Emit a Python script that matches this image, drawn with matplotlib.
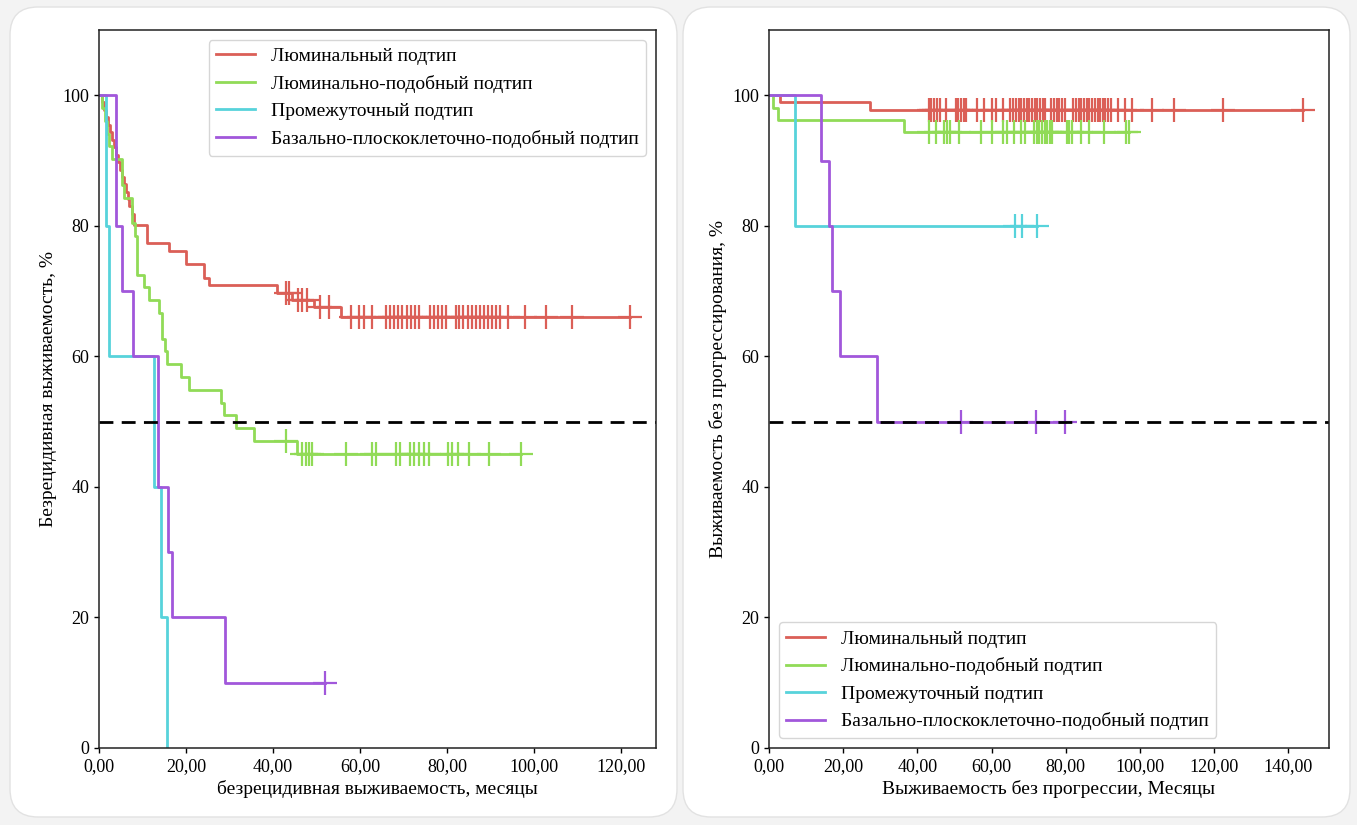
import numpy as np
import matplotlib
matplotlib.use("Agg")
import matplotlib.pyplot as plt
from matplotlib.patches import FancyBboxPatch
from matplotlib.ticker import FuncFormatter

plt.rcParams['font.family'] = ['Liberation Serif', 'DejaVu Serif']

## подписи групп и цвета (палитра hls из 4 цветов)
labels = ["Люминальный подтип", "Люминально-подобный подтип",
          "Промежуточный подтип", "Базально-плоскоклеточно-подобный подтип"]
colors = ["#db5f57", "#91db57", "#57d3db", "#a157db"]

## Левая панель: безрецидивная выживаемость
lum_rfs_t = [0, 0.8, 1.2, 1.7, 2.1, 2.5, 3.0, 3.4, 3.8, 4.3, 4.8, 5.2, 5.7, 6.1, 6.6, 7.0, 7.5, 8.0,
             11.1, 16.1, 19.9, 24.1, 25.3, 41.0, 44.4, 49.5, 55.5]
lum_rfs_s = [100, 98.9, 97.7, 96.6, 95.5, 94.3, 93.2, 92.0, 90.9, 89.8, 88.6, 87.5, 86.4, 85.2, 84.1, 83.0, 81.8, 80.1,
             77.3, 76.1, 74.2, 72.0, 70.9, 69.7, 68.6, 67.5, 66.0]
lum_rfs_cens = [42.9, 43.7, 45.8, 46.7, 47.9, 50.7, 52.9, 57.9, 59.8, 60.9, 62.8, 65.9, 66.8, 67.8, 68.8,
                69.7, 70.7, 71.6, 72.6, 73.6, 76.0, 77.0, 78.0, 78.9, 79.8, 82.0, 82.8, 83.7, 84.7, 85.7,
                86.6, 87.5, 88.5, 89.5, 90.4, 91.3, 92.1, 93.9, 97.9, 102.8, 108.8, 122.0]

lumlike_rfs_t = [0, 0.8, 1.3, 1.8, 2.4, 3.1, 5.4, 5.7, 7.6, 8.2, 8.8, 10.3, 11.4, 13.7, 14.5, 15.2, 15.7,
                 18.8, 20.7, 28.0, 28.7, 31.4, 35.6, 45.5]
lumlike_rfs_s = [100, 98.0, 96.1, 94.1, 92.2, 90.2, 86.3, 84.3, 80.4, 78.4, 72.5, 70.6, 68.6, 66.7, 62.7, 60.8, 58.8,
                 56.9, 54.9, 52.9, 51.0, 49.0, 47.1, 45.1]
lumlike_rfs_cens = [43.0, 46.7, 47.6, 48.3, 49.0, 56.8, 62.8, 63.7, 68.3, 69.2, 71.5, 72.4, 73.6, 74.7, 75.9,
                    80.2, 81.1, 82.5, 85.1, 89.7, 97.0]

inter_rfs_t = [0, 1.5, 2.3, 12.6, 14.2, 15.7]
inter_rfs_s = [100, 80, 60, 40, 20, 0]
inter_rfs_cens = []

basal_rfs_t = [0, 3.8, 5.4, 7.7, 13.5, 15.9, 16.7, 29.0]
basal_rfs_s = [100, 80, 70, 60, 40, 30, 20, 10]
basal_rfs_cens = [52.0]

## Правая панель: выживаемость без прогрессирования
lum_pfs_t = [0, 3.0, 27.3]
lum_pfs_s = [100, 98.9, 97.8]
lum_pfs_cens = [43.1, 43.8, 44.5, 45.3, 46.0, 47.6, 50.3, 51.0, 51.7, 52.5, 53.2, 56.1, 57.9, 60.2, 61.1, 63.2,
                65.1, 65.9, 66.6, 67.3, 68.0, 68.7, 69.5, 70.2, 70.9, 71.6, 72.3, 73.1, 73.8, 74.5,
                76.1, 76.8, 77.6, 78.3, 79.0, 79.7, 82.1, 82.8, 83.5, 84.2, 84.9, 85.7, 86.4, 87.1,
                87.8, 88.6, 89.3, 90.0, 90.7, 91.4, 92.2, 94.1, 95.9, 98.0, 103.2, 109.3, 122.4, 144.1]

lumlike_pfs_t = [0, 1.2, 2.5, 36.3]
lumlike_pfs_s = [100, 98.1, 96.2, 94.3]
lumlike_pfs_cens = [43.1, 45.1, 47.1, 48.0, 48.9, 51.2, 57.2, 60.2, 63.2, 64.1, 66.0, 68.0, 68.9, 71.4, 72.2,
                    72.9, 73.6, 74.3, 75.0, 75.8, 76.4, 80.3, 81.0, 81.8, 84.2, 86.3, 90.2, 96.2, 97.2]

inter_pfs_t = [0, 7.0]
inter_pfs_s = [100, 80]
inter_pfs_cens = [66.2, 68.1, 72.2]

basal_pfs_t = [0, 14.1, 16.2, 17.1, 19.1, 29.2]
basal_pfs_s = [100, 90, 80, 70, 60, 50]
basal_pfs_cens = [51.9, 71.9, 79.7]


def km_curve(ax, t, s, cens, color, label):
    t = list(t)
    s = list(s)
    end = max([t[-1]] + list(cens))
    ax.step(t + [end], s + [s[-1]], where='post', color=color, lw=2.0, label=label)
    if len(cens) > 0:
        idx = np.searchsorted(t, cens, side='right') - 1
        vals = np.array(s)[idx]
        ax.plot(cens, vals, '+', color=color, ms=17, mew=1.6)


def comma_fmt(x, pos):
    return f"{x:.2f}".replace(".", ",")


fig = plt.figure(figsize=(13.57, 8.25), dpi=100, facecolor="#f3f3f3")

## фон: белые карточки под графиками (в пикселях)
bg = fig.add_axes([0, 0, 1, 1], zorder=-5)
bg.set_xlim(0, 1357)
bg.set_ylim(0, 825)
bg.axis("off")
for x0 in [10, 683]:
    card = FancyBboxPatch((x0, 8), 667, 810,
                          boxstyle="round,pad=0,rounding_size=28",
                          facecolor="white", edgecolor="#e2e2e2", lw=1.0)
    bg.add_patch(card)

ax1 = fig.add_axes([99 / 1357, 77 / 825, 557 / 1357, 718 / 825])
ax2 = fig.add_axes([769 / 1357, 77 / 825, 560 / 1357, 718 / 825])

left = [(lum_rfs_t, lum_rfs_s, lum_rfs_cens), (lumlike_rfs_t, lumlike_rfs_s, lumlike_rfs_cens),
        (inter_rfs_t, inter_rfs_s, inter_rfs_cens), (basal_rfs_t, basal_rfs_s, basal_rfs_cens)]
right = [(lum_pfs_t, lum_pfs_s, lum_pfs_cens), (lumlike_pfs_t, lumlike_pfs_s, lumlike_pfs_cens),
         (inter_pfs_t, inter_pfs_s, inter_pfs_cens), (basal_pfs_t, basal_pfs_s, basal_pfs_cens)]

for ax, data in [(ax1, left), (ax2, right)]:
    for (t, s, c), col, lab in zip(data, colors, labels):
        km_curve(ax, t, s, c, col, lab)
    ax.axhline(50, color="black", ls="--", lw=2.0, dashes=(5, 3))
    ax.set_ylim(0, 110)
    ax.set_yticks([0, 20, 40, 60, 80, 100])
    ax.xaxis.set_major_formatter(FuncFormatter(comma_fmt))
    ax.tick_params(labelsize=13, width=1.0)
    for sp in ax.spines.values():
        sp.set_linewidth(1.1)
        sp.set_color("#222222")

ax1.set_xlim(0, 128)
ax1.set_xticks([0, 20, 40, 60, 80, 100, 120])
ax2.set_xlim(0, 151)
ax2.set_xticks([0, 20, 40, 60, 80, 100, 120, 140])

ax1.set_xlabel("безрецидивная выживаемость, месяцы", fontsize=14)
ax1.set_ylabel("Безрецидивная выживаемость, %", fontsize=14)
ax2.set_xlabel("Выживаемость без прогрессии, Месяцы", fontsize=14)
ax2.set_ylabel("Выживаемость без прогрессирования, %", fontsize=14)

ax1.legend(loc="upper right", fontsize=14)
ax2.legend(loc="lower left", fontsize=14)

fig.savefig("out.png", dpi=100, facecolor=fig.get_facecolor())
